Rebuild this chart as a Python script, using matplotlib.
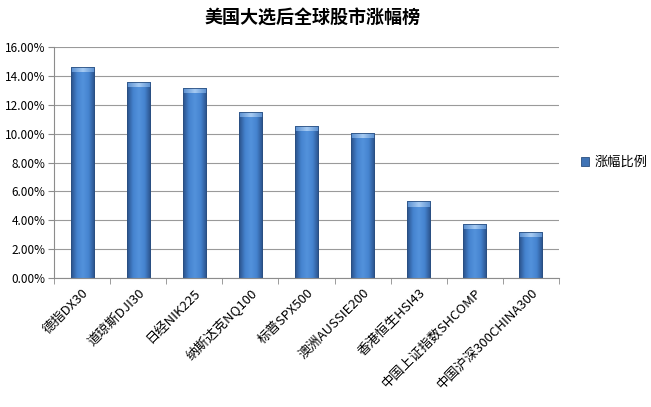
import numpy as np
import matplotlib.pyplot as plt
from matplotlib.colors import LinearSegmentedColormap
from matplotlib.ticker import FuncFormatter

plt.rcParams['font.family'] = ['Noto Sans CJK SC', 'DejaVu Sans']

# Data
categories = ['德指DX30', '道琼斯DJI30', '日经NIK225', '纳斯达克NQ100', '标普SPX500',
              '澳洲AUSSIE200', '香港恒生HSI43', '中国上证指数SHCOMP', '中国沪深300CHINA300']
values = [14.6, 13.6, 13.15, 11.5, 10.5, 10.05, 5.3, 3.72, 3.18]
series_name = '涨幅比例'
title = '美国大选后全球股市涨幅榜'

fig = plt.figure(figsize=(6.51, 4.07), dpi=100)
ax = fig.add_axes([54 / 651, 1 - 278 / 407, 505 / 651, 231 / 407])

x = np.arange(len(categories))
bars = ax.bar(x, [v / 100 for v in values], width=0.41, color='#3f73b5',
              edgecolor='#2a4f80', linewidth=0.6, label=series_name, zorder=2)

# cylinder-like shading inside each bar
cmap = LinearSegmentedColormap.from_list('cyl', ['#2a5088', '#4583cf', '#5392dc', '#4583cf', '#2a5088'])
grad = np.linspace(0, 1, 64).reshape(1, -1)
for b in bars:
    x0, y0 = b.get_x(), b.get_y()
    w, h = b.get_width(), b.get_height()
    im = ax.imshow(grad, extent=[x0, x0 + w, y0, y0 + h], aspect='auto', cmap=cmap,
                   zorder=2.1, interpolation='bicubic')
    im.set_clip_path(b)
    cap = ax.imshow(np.linspace(0, 1, 32).reshape(1, -1), extent=[x0, x0 + w, y0 + h - 0.0035, y0 + h],
                    aspect='auto', cmap=LinearSegmentedColormap.from_list('cap', ['#5a8fd0', '#a6cbf3', '#5a8fd0']),
                    zorder=2.2)
    cap.set_clip_path(b)
    ax.add_patch(plt.Rectangle((x0, y0), w, h, fill=False, edgecolor='#2a4f80', linewidth=0.6, zorder=2.3))

ax.set_xlim(-0.5, len(categories) - 0.5)
ax.set_ylim(0, 0.16)
ax.set_yticks(np.arange(0, 0.161, 0.02))
ax.yaxis.set_major_formatter(FuncFormatter(lambda v, p: f'{v * 100:.2f}%'))
ax.grid(axis='y', color='#9a9a9a', linewidth=0.8, zorder=0)
ax.set_axisbelow(True)

ax.set_xticks(x)
ax.set_xticklabels(categories, rotation=45, ha='right', rotation_mode='anchor', fontsize=9.5)
ax.set_xticks(np.arange(-0.5, len(categories)), minor=True)
ax.tick_params(axis='x', which='major', length=0, pad=6)
ax.tick_params(axis='x', which='minor', length=4, color='#8c8c8c')
ax.tick_params(axis='y', length=4, color='#8c8c8c', labelsize=8.5, pad=2)

for s in ['top', 'right']:
    ax.spines[s].set_visible(False)
for s in ['left', 'bottom']:
    ax.spines[s].set_color('#8c8c8c')

ax.legend(loc='center left', bbox_to_anchor=(1.02, 0.5), frameon=False, fontsize=9.5,
          handlelength=0.6, handleheight=0.6, handletextpad=0.4)

fig.text(0.48, 0.955, title, ha='center', va='center', fontsize=13, fontweight='bold')

fig.savefig('out.png', dpi=100)
